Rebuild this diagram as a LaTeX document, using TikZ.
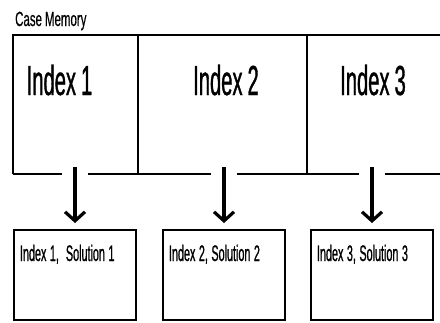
\documentclass[tikz,border=0pt]{standalone}
\usepackage{fontspec}
\setmainfont{Liberation Sans}
\newfontfamily\slimfont[FakeStretch=0.48,FakeBold=0.8]{Liberation Sans}
\newfontfamily\headfont[FakeStretch=0.56,FakeBold=0.4]{Liberation Sans}
\newcommand\tightspace[1]{\spaceskip=#1\relax}
\usetikzlibrary{arrows.meta,positioning}

\begin{document}
\begin{tikzpicture}[
      x=1pt, y=-1pt,
      >={Straight Barb[length=9pt,width=20pt]},
      cell/.style={minimum width=#1, minimum height=139pt,
                   inner sep=0pt, outer sep=0pt},
      idx/.style={font={\slimfont\fontsize{42}{42}\selectfont\tightspace{5pt}},
                  inner sep=0pt, anchor=base},
      sol/.style={draw, line width=1.1pt, outer sep=0pt,
                  text width=110pt, inner xsep=6pt, inner ysep=4pt,
                  text height=27pt, text depth=55pt, align=flush left,
                  font={\slimfont\fontsize{22.5}{22.5}\selectfont\tightspace{3.5pt}}},
      frame/.style={line width=1.1pt},
      link/.style={->, line width=3.2pt}
    ]
      \useasboundingbox (0,0) rectangle (440,322);

      \node[anchor=base west, inner sep=0pt,
            font={\headfont\fontsize{20.5}{20.5}\selectfont\tightspace{3pt}}] (title) at (15,26) {Case Memory};

      % memory cells
      \node[cell=125pt] (c1) at (75.5,104.5) {};
      \node[cell=169pt, right=0pt of c1] (c2) {};
      \node[cell=133pt, right=0pt of c2] (c3) {};

      \node[idx] (i1) at (59.5,95) {Index 1};
      \node[idx] (i2) at (226,95) {Index 2};
      \node[idx] (i3) at (373,95) {Index 3};

      % solutions
      \node[sol] (s1) at (75,275) {Index 1,~~Solution 1};
      \node[sol, right=27pt of s1] (s2) {Index 2, Solution 2};
      \node[sol, right=26pt of s2] (s3) {Index 3, Solution 3};

      % outline, left open under each arrow
      \draw[frame] (c1.south west) -- (c1.north west) -- (c3.north east);
      \draw[frame] (c1.north east) -- (c1.south east);
      \draw[frame] (c2.north east) -- (c2.south east);
      \draw[frame] (c1.south west) -- ([xshift=-13pt]s1.north |- c1.south);
      \draw[frame] ([xshift=13pt]s1.north |- c1.south) -- ([xshift=-13pt]s2.north |- c2.south);
      \draw[frame] ([xshift=13pt]s2.north |- c2.south) -- ([xshift=-13pt]s3.north |- c3.south);
      \draw[frame] ([xshift=13pt]s3.north |- c3.south) -- (c3.south east);

      \draw[link] ([yshift=7pt]s1.north |- c1.south) -- ([yshift=7pt]s1.north);
      \draw[link] ([yshift=7pt]s2.north |- c2.south) -- ([yshift=7pt]s2.north);
      \draw[link] ([yshift=7pt]s3.north |- c3.south) -- ([yshift=7pt]s3.north);
    \end{tikzpicture}
\end{document}
